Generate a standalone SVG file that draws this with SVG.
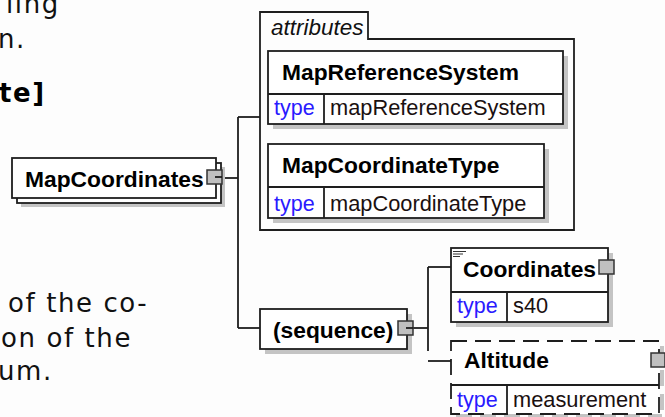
<svg xmlns="http://www.w3.org/2000/svg" width="665" height="417" viewBox="0 0 665 417">
<style>
.bg{fill:#fdfdfd}
.box{fill:#fff;stroke:#1e1e1e;stroke-width:1.8}
.dbox{fill:#fff;stroke:#1e1e1e;stroke-width:1.8;stroke-dasharray:16 8}
.sh{fill:#c4c4c4}
.ln{stroke:#1e1e1e;stroke-width:1.8;fill:none}
.name{font-family:"Liberation Sans",Arial,sans-serif;font-weight:bold;font-size:22.8px;fill:#000}
.type{font-family:"Liberation Sans",Arial,sans-serif;font-size:21.5px;fill:#2a1aff}
.val{font-family:"Liberation Sans",Arial,sans-serif;font-size:21.8px;fill:#1a1010}
.attr{font-family:"Liberation Sans",Arial,sans-serif;font-style:italic;font-size:22.5px;fill:#111}
.page{font-family:"DejaVu Sans",Verdana,sans-serif;font-size:26px;letter-spacing:1.6px;fill:#111}
.pageb{font-family:"DejaVu Sans",Verdana,sans-serif;font-size:26px;font-weight:bold;letter-spacing:1.6px;fill:#000}
.sq{fill:#c0c0c0;stroke:#333;stroke-width:1.5}
</style>
<rect class="bg" x="0" y="0" width="665" height="417"/>

<g id="page-text">
<text class="page" x="6" y="13">ling</text>
<text class="page" x="-2" y="48">n.</text>
<text class="pageb" x="-1" y="102">te]</text>
<text class="page" x="8" y="312">of the co-</text>
<text class="page" x="1" y="347">on of the</text>
<text class="page" x="-2" y="380">um.</text>
</g>

<g id="connectors">
<path class="ln" d="M222,178 H238"/>
<path class="ln" d="M238,117 V328"/>
<path class="ln" d="M238,117 H260"/>
<path class="ln" d="M238,328 H260"/>
<path class="ln" d="M413,328 H428"/>
<path class="ln" d="M428,267 V351"/>
<path class="ln" d="M428,267 H451"/>
<path class="ln" d="M428,361 H451"/>
</g>

<g id="MapCoordinates">
<rect class="sh" x="21" y="167" width="204" height="40"/>
<rect class="box" x="17" y="163" width="204" height="40"/>
<rect class="box" x="12" y="158" width="204" height="40"/>
<text class="name" x="25" y="187">MapCoordinates</text>
<rect class="sq" x="207" y="170" width="15" height="14"/>
<path class="ln" d="M215,177 H222"/>
</g>

<g id="attributes">
<path class="ln" d="M260,230 V12 H368 V39 H574 V230 Z" fill="#fff"/>
<text class="attr" x="271" y="35">attributes</text>
</g>

<g id="MapReferenceSystem">
<rect class="sh" x="273" y="56" width="295" height="73"/>
<rect class="box" x="268" y="51" width="295" height="73"/>
<path class="ln" d="M268,94 H563 M324,94 V124"/>
<text class="name" x="282" y="80">MapReferenceSystem</text>
<text class="type" x="274" y="115">type</text>
<text class="val" x="330" y="115">mapReferenceSystem</text>
</g>

<g id="MapCoordinateType">
<rect class="sh" x="273" y="149" width="276" height="74"/>
<rect class="box" x="268" y="144" width="276" height="74"/>
<path class="ln" d="M268,187 H544 M324,187 V218"/>
<text class="name" x="282" y="173">MapCoordinateType</text>
<text class="type" x="274" y="211">type</text>
<text class="val" x="330" y="211">mapCoordinateType</text>
</g>

<g id="sequence">
<rect class="sh" x="265" y="314" width="147" height="40"/>
<rect class="box" x="260" y="309" width="147" height="40"/>
<text class="name" x="273" y="338">(sequence)</text>
<rect class="sq" x="398" y="321" width="15" height="14"/>
<path class="ln" d="M406,328 H413"/>
</g>

<g id="Coordinates">
<rect class="sh" x="456" y="253" width="157" height="74"/>
<rect class="box" x="451" y="248" width="157" height="74"/>
<path class="ln" d="M451,292 H608 M507,292 V322"/>
<path stroke="#333" stroke-width="1.2" d="M453,251.5 H466 M453,254 H463 M453,256.5 H460"/>
<text class="name" x="463" y="277">Coordinates</text>
<text class="type" x="457" y="313">type</text>
<text class="val" x="513" y="313">s40</text>
<rect class="sq" x="599" y="260" width="15" height="14"/>
</g>

<g id="Altitude">
<path d="M662,346 V417 M456,416 H662" stroke="#c4c4c4" stroke-width="4" stroke-dasharray="16 8" fill="none"/>
<rect class="dbox" x="451" y="341" width="208" height="73"/>
<path class="ln" d="M451,385 H659 M507,385 V414"/>
<text class="name" x="464" y="368">Altitude</text>
<text class="type" x="457" y="407">type</text>
<text class="val" x="513" y="407">measurement</text>
<rect class="sq" x="651" y="353" width="14" height="14"/>
</g>
</svg>
